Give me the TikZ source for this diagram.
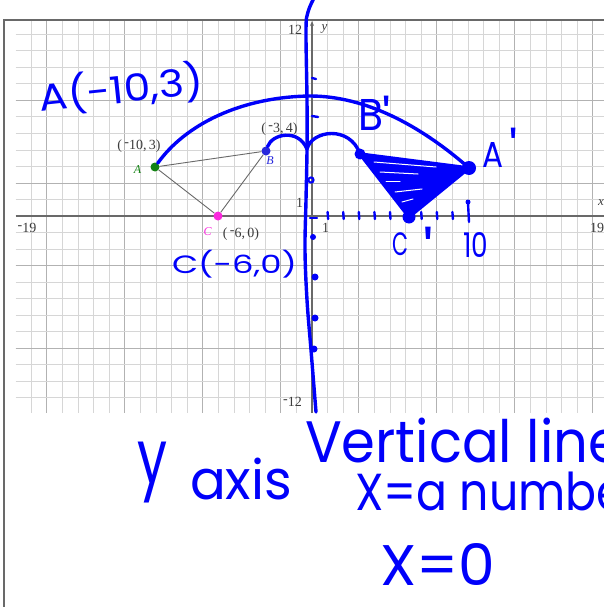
\documentclass[tikz,border=0pt]{standalone}
\usepackage{fontspec}
\usepackage{graphicx}
\setmainfont{Liberation Serif}
\newfontfamily\handfont{Poppins}
\usetikzlibrary{arrows.meta}
\definecolor{ink}{RGB}{0,0,250}
\definecolor{gridminor}{RGB}{214,214,214}
\definecolor{gridmajor}{RGB}{178,178,178}
\definecolor{axisgray}{RGB}{105,105,105}
\definecolor{labgray}{RGB}{60,60,60}
\definecolor{ptgreen}{RGB}{20,130,20}
\definecolor{ptblue}{RGB}{40,40,220}
\definecolor{ptpink}{RGB}{250,40,220}
\newcommand{\hw}[3]{\resizebox*{#1pt}{#2pt}{\handfont #3}}
\newcommand{\hwprime}[2]{{\handfont\fontsize{#2}{#2}\selectfont\raisebox{\dimexpr #1pt-\height\relax}{'}}}
\newcommand{\negs}{\raisebox{0.45ex}{-}}
\begin{document}
\begin{tikzpicture}[x=1pt,y=-1pt,
  pen/.style={draw=ink,line width=3.4pt,line cap=round,line join=round},
  thinpen/.style={draw=ink,line width=2.4pt,line cap=round},
  hwnode/.style={inner sep=0pt,outer sep=0pt,text=ink},
  ticklab/.style={inner sep=0pt,text=labgray,font=\fontsize{14}{14}\selectfont},
  coordlab/.style={inner sep=0pt,text=labgray,font=\fontsize{14}{14}\selectfont},
  ptlab/.style={inner sep=0pt,font=\fontsize{12}{12}\selectfont\itshape},
  ptdot/.style={circle,inner sep=0pt,minimum size=9pt},
  inkdot/.style={circle,fill=ink,inner sep=0pt},
  minorline/.style={draw=gridminor,line width=1pt},
  majorline/.style={draw=gridmajor,line width=1pt},
  axisline/.style={draw=axisgray,line width=1.1pt},
]
\useasboundingbox (0,0) rectangle (604,607);
\fill[white] (0,0) rectangle (604,607);
\begin{scope}
\clip (0,0) rectangle (604,607);
% grid
\foreach \k in {-18,...,18} \draw[minorline] ({312+15.6*\k},20.5) -- ({312+15.6*\k},413);
\foreach \k in {-17,-12,-7,-2,3,8,13,18} \draw[majorline] ({312+15.6*\k},20.5) -- ({312+15.6*\k},413);
\foreach \k in {-11,...,11} \draw[minorline] (15.6,{216-16.5*\k}) -- (606,{216-16.5*\k});
\foreach \k in {-8,-3,2,7} \draw[majorline] (15.6,{216-16.5*\k}) -- (606,{216-16.5*\k});
% frame
\draw[draw=axisgray,line width=1.3pt] (4,610) -- (4,20) -- (606,20);
% axes
\draw[axisline,-{Stealth[length=5pt,width=4pt]}] (15.6,216) -- (610,216);
\draw[axisline,-{Stealth[length=5pt,width=4pt]}] (312,413) -- (312,21);
% tick labels
\node[ticklab] (l12) at (295,30) {12};
\node[ticklab] (ly1) at (299.5,202.5) {1};
\node[ticklab] (lx1) at (325.5,228) {1};
\node[ticklab] (lm19) at (27,228) {\negs19};
\node[ticklab,anchor=west] (l19) at (590,228) {19};
\node[ticklab] (lm12) at (292.5,402) {\negs12};
\node[ptlab,text=labgray,font=\fontsize{13}{13}\selectfont\itshape] (lx) at (601,203) {x};
\node[ptlab,text=labgray,font=\fontsize{13}{13}\selectfont\itshape] (ly) at (324.5,29) {y};
% original triangle
\node[ptdot,fill=ptgreen] (A) at (155,167) {};
\node[ptdot,fill=ptblue] (B) at (266,151) {};
\node[ptdot,fill=ptpink] (C) at (218,216) {};
\draw[draw=axisgray,line width=0.9pt] (A) -- (B) -- (C) -- (A);
\node[ptlab,text=ptgreen] (Alab) at (137.5,170) {A};
\node[ptlab,text=ptblue] (Blab) at (270,161) {B};
\node[ptlab,text=ptpink] (Clab) at (207.5,231.5) {C};
\node[coordlab] (Acoord) at (139,146) {(\,\negs10,\,3)};
\node[coordlab] (Bcoord) at (279.5,129.5) {(\,\negs3,\,4)};
\node[coordlab] (Ccoord) at (241,234.5) {(\,\negs6,\,0)};
% handwritten construction
\coordinate (Ap) at (469,168);
\coordinate (Bp) at (360,154);
\coordinate (Cp) at (409,217);
\draw[pen] plot[smooth,tension=0.6] coordinates {(314,-2) (308,12) (306,30) (307,100) (307,150) (306,200) (305,250) (307,300) (311,350) (316,412)};
\draw[pen] (A) .. controls (185,125) and (240,97) .. (310,96) .. controls (365,96) and (420,125) .. (Ap);
\draw[pen] (B) .. controls (272,134) and (298,128) .. (307,149) .. controls (312,130) and (350,125) .. (Bp);
\filldraw[pen,fill=ink] (Bp) -- (Ap) -- (Cp) -- cycle;
\begin{scope}[draw=white,line width=1pt,line cap=round]
\draw (374,162) -- (436,167);
\draw (380,172) -- (418,174);
\draw (386,181) -- (400,181);
\draw (395,192) -- (422,189);
\draw (402,202) -- (413,199);
\end{scope}
\node[inkdot,minimum size=11pt] (dBp) at (Bp) {};
\node[inkdot,minimum size=14pt] (dAp) at (Ap) {};
\node[inkdot,minimum size=13pt] (dCp) at (Cp) {};
% marks on the vertical line
\draw[thinpen] (312,78) -- (316,79);
\draw[thinpen] (312,116) -- (318,117);
\draw[draw=ink,line width=2pt] (311,180) circle (2.6);
\draw[thinpen] (310,218) -- (317,218);
\node[inkdot,minimum size=6pt] (v1) at (313,237) {};
\node[inkdot,minimum size=7pt] (v2) at (315,277) {};
\node[inkdot,minimum size=7pt] (v3) at (315,318) {};
\node[inkdot,minimum size=7pt] (v4) at (314,349) {};
% ticks on the x-axis
\foreach \k in {1,...,5,7,8,9} \draw[thinpen] ({312+15.6*\k},212) -- ({312.5+15.6*\k},219);
\draw[thinpen] (468,203) -- (469,222);
\node[inkdot,minimum size=5pt] (t10) at (468,202) {};
% handwritten texts
\node[hwnode,rotate=6] (hwA) at (121,89) {\hw{165}{42}{A(-10,3)}};
\node[hwnode,anchor=base west] (hwBp) at (358,131) {\hw{25}{31}{B}\hspace{-1pt}\hwprime{35}{52}};
\node[hwnode,anchor=base west] (hwAp) at (482,167) {\hw{21}{25}{A}\hspace{6pt}\hwprime{39}{52}};
\node[hwnode,anchor=base west] (hwCp) at (392,255) {\hw{16}{23}{C}\hspace{15pt}\hwprime{28}{62}};
\node[hwnode,anchor=base west] (hw10) at (463,257) {\hw{25}{25}{10}};
\node[hwnode,anchor=north west] (hwC) at (172,250) {\hw{125}{28}{C(-6,0)}};
\node[hwnode,anchor=north west] (hwy) at (137,442) {\hw{30}{61}{y}};
\node[hwnode,anchor=north west] (hwaxis) at (190,458) {\hw{102}{42}{axis}};
\node[hwnode,anchor=north west] (hwvert) at (305,418) {\hw{317}{45}{Vertical line}};
\node[hwnode,anchor=north west] (hwnum) at (355,472) {\hw{287}{39}{X=a number}};
\node[hwnode,anchor=north west] (hwx0) at (380,543) {\hw{115}{42}{X=0}};
\end{scope}
\end{tikzpicture}
\end{document}
